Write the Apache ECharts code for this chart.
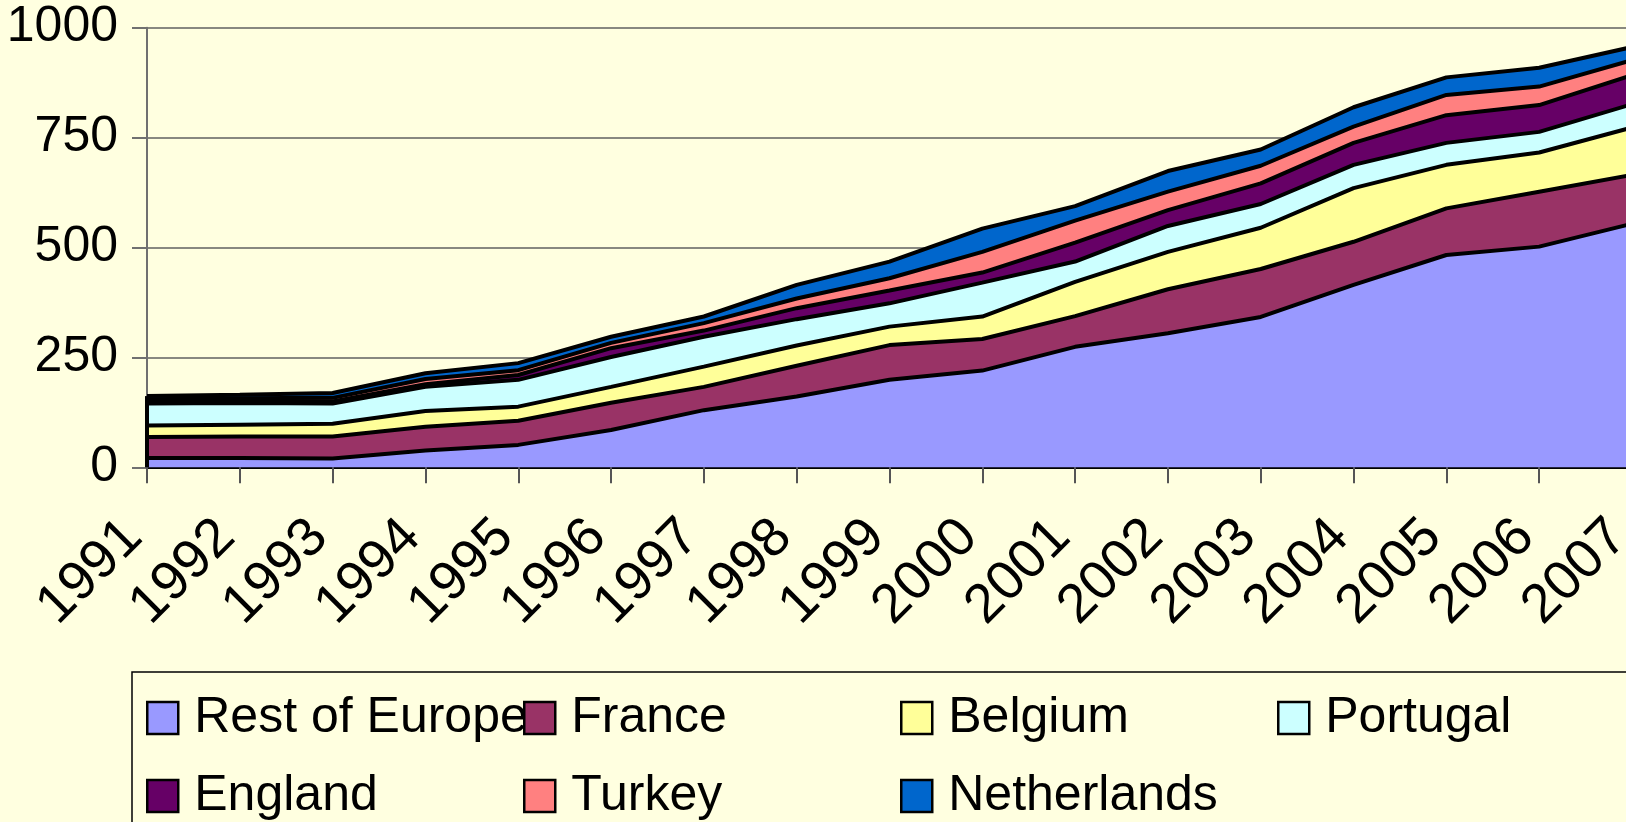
<!DOCTYPE html>
<html>
<head>
<meta charset="utf-8">
<script src="https://cdn.jsdelivr.net/npm/echarts@6/dist/echarts.min.js"></script>
<style>
  html, body { margin: 0; padding: 0; background: #FFFFE0; }
  #chart { width: 1626px; height: 822px; }
</style>
</head>
<body>
<div id="chart"></div>
<script>
// years on the x axis
const years = ['1991', '1992', '1993', '1994', '1995', '1996', '1997', '1998', '1999',
  '2000', '2001', '2002', '2003', '2004', '2005', '2006', '2007'];

// series values (stacked from the bottom)
const restOfEurope = [21, 21, 20, 38, 51, 85, 130, 161, 199, 220, 274, 305, 342, 415, 483, 502, 554];
const france = [48, 49, 50, 54, 55, 62, 53, 70, 79, 72, 70, 100, 109, 98, 106, 125, 111];
const belgium = [26, 27, 29, 36, 32, 36, 46, 46, 42, 51, 78, 85, 94, 122, 99, 89, 108];
const portugal = [50, 49, 46, 55, 61, 68, 68, 60, 53, 77, 46, 59, 54, 53, 50, 47, 53];
const england = [5, 5, 5, 6, 11, 20, 14, 25, 29, 23, 43, 36, 47, 50, 63, 61, 66];
const turkey = [5, 6, 8, 12, 11, 12, 17, 22, 28, 47, 50, 42, 40, 37, 46, 42, 34];
const netherlands = [7, 8, 11, 13, 16, 14, 15, 31, 38, 53, 33, 47, 37, 44, 40, 43, 30];

const seriesNames = ['Rest of Europe', 'France', 'Belgium', 'Portugal', 'England', 'Turkey', 'Netherlands'];
const seriesData = [restOfEurope, france, belgium, portugal, england, turkey, netherlands];
const colors = ['#9999FF', '#993366', '#FFFF99', '#CCFFFF', '#660066', '#FF8080', '#0066CC'];

// legend grid: 4 columns, 2 rows
const legendCols = [146, 523, 900, 1277];
const legendRows = [693, 771];

const font = "'Liberation Sans', Arial, sans-serif";
const chart = echarts.init(document.getElementById('chart'));

// stack height in the first year, for the left edge outline
const firstTotal = seriesData.reduce((sum, arr) => sum + arr[0], 0);

const legends = seriesNames.map((name, i) => ({
  data: [{ name: name, itemStyle: { color: colors[i] } }],
  left: legendCols[i % 4],
  top: legendRows[Math.floor(i / 4)],
  padding: 0,
  icon: 'rect',
  itemWidth: 31,
  itemHeight: 32,
  itemStyle: { borderColor: '#000', borderWidth: 2.5 },
  selectedMode: false,
  textStyle: {
    fontFamily: font,
    fontSize: 50,
    lineHeight: 50,
    color: '#000',
    padding: [0, 0, 0, 11]
  }
}));

const option = {
  backgroundColor: '#FFFFE0',
  animation: false,
  grid: {
    left: 147,
    right: -6,
    top: 27.7,
    bottom: 354.7,
    containLabel: false,
    outerBoundsMode: 'none'
  },
  legend: legends,
  graphic: [{
    type: 'rect',
    shape: { x: 132, y: 672, width: 1600, height: 300 },
    style: { fill: 'none', stroke: '#000', lineWidth: 1.5 },
    silent: true
  }],
  xAxis: {
    type: 'category',
    data: years,
    boundaryGap: false,
    axisLine: { lineStyle: { color: '#000', width: 3 } },
    axisTick: { show: true, length: 16, lineStyle: { color: '#555', width: 2 } },
    axisLabel: {
      rotate: 45,
      margin: 48,
      interval: 0,
      fontFamily: font,
      fontSize: 55,
      color: '#000',
      padding: [0, 19, 0, 0]
    },
    splitLine: { show: false }
  },
  yAxis: {
    type: 'value',
    min: 0,
    max: 1000,
    interval: 250,
    axisLine: { show: true, lineStyle: { color: '#707070', width: 2 } },
    axisTick: { show: true, length: 15, lineStyle: { color: '#707070', width: 2 } },
    axisLabel: {
      margin: 29,
      fontFamily: font,
      fontSize: 50,
      color: '#000',
      formatter: v => String(v)
    },
    splitLine: { lineStyle: { color: '#606060', width: 1.5 } }
  },
  series: seriesNames.map((name, i) => {
    const s = {
      name: name,
      type: 'line',
      stack: 'total',
      data: seriesData[i],
      symbol: 'none',
      color: colors[i],
      lineStyle: { color: '#000', width: 4 },
      areaStyle: { color: colors[i], opacity: 1 },
      emphasis: { disabled: true }
    };
    if (i === seriesNames.length - 1) {
      // black outline on the left edge of the stacked areas
      s.markLine = {
        silent: true,
        symbol: 'none',
        label: { show: false },
        lineStyle: { color: '#000', width: 4, type: 'solid' },
        data: [[{ coord: [years[0], 0] }, { coord: [years[0], firstTotal] }]]
      };
    }
    return s;
  })
};

chart.setOption(option);
</script>
</body>
</html>
